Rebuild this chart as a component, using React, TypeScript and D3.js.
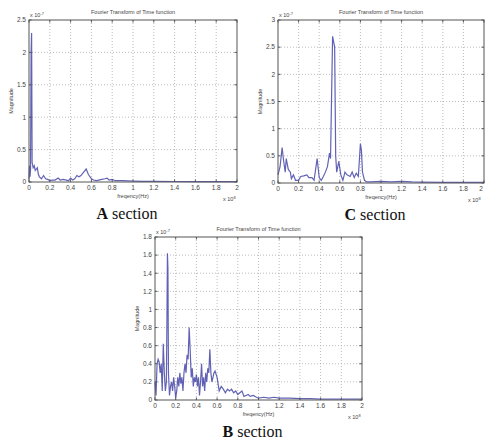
import React from 'react'
import * as d3 from 'd3'

// frequencies in units of 1e8 Hz, magnitudes in units of 1e-7
const freqA = [0, 0.005, 0.01, 0.015, 0.02, 0.025, 0.03, 0.04, 0.05, 0.06, 0.07, 0.08, 0.09, 0.1, 0.12, 0.14, 0.16, 0.18, 0.2, 0.22, 0.25, 0.28, 0.3, 0.33, 0.36, 0.38, 0.4, 0.42, 0.44, 0.46, 0.48, 0.5, 0.52, 0.55, 0.57, 0.6, 0.62, 0.65, 0.7, 0.73, 0.75, 0.77, 0.8, 0.83, 0.9, 1.0, 1.1, 1.2, 1.4, 1.6, 1.8, 2.0]
const magA = [0.05, 0.25, 0.08, 0.2, 2.0, 2.3, 0.3, 0.22, 0.25, 0.18, 0.2, 0.22, 0.12, 0.08, 0.05, 0.1, 0.05, 0.04, 0.02, 0.03, 0.03, 0.06, 0.03, 0.04, 0.03, 0.02, 0.06, 0.03, 0.05, 0.1, 0.08, 0.1, 0.14, 0.2, 0.12, 0.05, 0.03, 0.02, 0.04, 0.05, 0.06, 0.03, 0.04, 0.02, 0.02, 0.015, 0.01, 0.01, 0.008, 0.006, 0.005, 0.005]

const freqC = [0, 0.02, 0.04, 0.055, 0.07, 0.08, 0.1, 0.12, 0.13, 0.15, 0.17, 0.2, 0.22, 0.25, 0.28, 0.3, 0.33, 0.35, 0.38, 0.4, 0.42, 0.44, 0.46, 0.48, 0.5, 0.51, 0.53, 0.55, 0.56, 0.57, 0.59, 0.61, 0.63, 0.65, 0.67, 0.7, 0.72, 0.74, 0.76, 0.78, 0.8, 0.81, 0.82, 0.84, 0.86, 0.9, 1.0, 1.1, 1.2, 1.3, 1.4, 1.6, 1.8, 2.0]
const magC = [0.15, 0.3, 0.65, 0.4, 0.2, 0.45, 0.25, 0.2, 0.08, 0.15, 0.05, 0.05, 0.12, 0.13, 0.15, 0.1, 0.1, 0.05, 0.45, 0.1, 0.05, 0.12, 0.2, 0.3, 0.55, 0.45, 2.7, 2.5, 0.5, 0.2, 0.4, 0.15, 0.05, 0.2, 0.15, 0.12, 0.2, 0.1, 0.18, 0.12, 0.72, 0.6, 0.2, 0.05, 0.02, 0.02, 0.03, 0.02, 0.03, 0.02, 0.015, 0.012, 0.01, 0.01]

const freqB = [0, 0.01, 0.02, 0.03, 0.04, 0.05, 0.06, 0.07, 0.08, 0.09, 0.1, 0.11, 0.115, 0.12, 0.125, 0.13, 0.14, 0.15, 0.16, 0.17, 0.18, 0.19, 0.2, 0.21, 0.22, 0.23, 0.24, 0.25, 0.26, 0.27, 0.28, 0.29, 0.3, 0.31, 0.32, 0.33, 0.34, 0.35, 0.36, 0.37, 0.38, 0.39, 0.4, 0.41, 0.42, 0.43, 0.44, 0.45, 0.46, 0.47, 0.48, 0.49, 0.5, 0.51, 0.52, 0.53, 0.54, 0.55, 0.56, 0.57, 0.58, 0.6, 0.62, 0.64, 0.66, 0.68, 0.7, 0.72, 0.74, 0.76, 0.78, 0.8, 0.82, 0.84, 0.86, 0.88, 0.9, 0.92, 0.95, 0.98, 1.0, 1.05, 1.1, 1.15, 1.2, 1.3, 1.4, 1.5, 1.6, 1.8, 2.0]
const magB = [0.2, 0.05, 0.4, 0.45, 0.42, 0.3, 0.4, 0.1, 0.62, 0.3, 0.1, 0.2, 0.85, 1.62, 1.45, 0.3, 0.05, 0.15, 0.2, 0.1, 0.25, 0.15, 0.02, 0.1, 0.25, 0.15, 0.3, 0.18, 0.25, 0.1, 0.3, 0.4, 0.3, 0.5, 0.45, 0.8, 0.55, 0.25, 0.35, 0.15, 0.25, 0.2, 0.28, 0.15, 0.25, 0.05, 0.2, 0.4, 0.15, 0.25, 0.1, 0.3, 0.2, 0.35, 0.3, 0.56, 0.3, 0.2, 0.25, 0.3, 0.32, 0.25, 0.1, 0.15, 0.12, 0.08, 0.12, 0.1, 0.12, 0.08, 0.1, 0.06, 0.08, 0.1, 0.04, 0.05, 0.06, 0.04, 0.05, 0.03, 0.02, 0.03, 0.02, 0.03, 0.02, 0.02, 0.015, 0.015, 0.01, 0.01, 0.01]

const xTicks = [0, 0.2, 0.4, 0.6, 0.8, 1, 1.2, 1.4, 1.6, 1.8, 2]
const yTicksA = [0, 0.5, 1, 1.5, 2, 2.5]
const yTicksC = [0, 0.5, 1, 1.5, 2, 2.5, 3]
const yTicksB = [0, 0.2, 0.4, 0.6, 0.8, 1, 1.2, 1.4, 1.6, 1.8]

const sans = 'Arial, "Liberation Sans", sans-serif'

function Panel({ left, right, top, bottom, freq, mag, yTicks, yMax, letter }) {
  const x = d3.scaleLinear().domain([0, 2]).range([left, right])
  const y = d3.scaleLinear().domain([0, yMax]).range([bottom, top])
  const line = d3.line<number>().x((d, i) => x(freq[i])).y(d => y(d))
  const cx = (left + right) / 2
  return (
    <g>
      {/* grid */}
      {xTicks.slice(1, -1).map(t => (
        <line key={'gx' + t} x1={x(t)} x2={x(t)} y1={top} y2={bottom} stroke="#aaa" strokeWidth={0.8} strokeDasharray="1,2" />
      ))}
      {yTicks.slice(1, -1).map(t => (
        <line key={'gy' + t} x1={left} x2={right} y1={y(t)} y2={y(t)} stroke="#aaa" strokeWidth={0.8} strokeDasharray="1,2" />
      ))}
      {/* data */}
      <path d={line(mag) || ''} fill="none" stroke="#4646a8" strokeWidth={1.2} strokeOpacity={0.85} />
      {/* frame */}
      <rect x={left} y={top} width={right - left} height={bottom - top} fill="none" stroke="#555" strokeWidth={1} />
      {xTicks.map(t => (
        <g key={'tx' + t}>
          <line x1={x(t)} x2={x(t)} y1={bottom} y2={bottom - 2.5} stroke="#555" />
          <line x1={x(t)} x2={x(t)} y1={top} y2={top + 2.5} stroke="#555" />
          <text x={Math.min(x(t), 481)} y={bottom + 8} textAnchor="middle" fontSize={6.5} fill="#444" fontFamily={sans}>{String(t)}</text>
        </g>
      ))}
      {yTicks.map(t => (
        <g key={'ty' + t}>
          <line x1={left} x2={left + 2.5} y1={y(t)} y2={y(t)} stroke="#555" />
          <line x1={right} x2={right - 2.5} y1={y(t)} y2={y(t)} stroke="#555" />
          <text x={left - 3} y={y(t) + 2.3} textAnchor="end" fontSize={6.5} fill="#444" fontFamily={sans}>{String(t)}</text>
        </g>
      ))}
      <text x={left + 1} y={top - 3} fontSize={5.5} fill="#444" fontFamily={sans}>x 10<tspan dy={-2.5} fontSize={4}>-7</tspan></text>
      <text x={Math.min(right - 14, 468)} y={bottom + 19} fontSize={5.5} fill="#444" fontFamily={sans}>x 10<tspan dy={-2.5} fontSize={4}>8</tspan></text>
      <text x={cx} y={top - 6} textAnchor="middle" fontSize={5.5} fill="#444" fontFamily={sans}>Fourier Transform of Time function</text>
      <text x={cx} y={bottom + 16} textAnchor="middle" fontSize={5.5} fill="#444" fontFamily={sans}>freqency(Hz)</text>
      <text transform={`translate(${left - 16},${(top + bottom) / 2}) rotate(-90)`} textAnchor="middle" fontSize={5.5} fill="#444" fontFamily={sans}>Magnitude</text>
      <text x={cx - 6} y={bottom + 37} textAnchor="middle" fontSize={16} fill="#111" fontFamily='"Liberation Serif", "Times New Roman", serif'>
        <tspan fontWeight="bold">{letter}</tspan> section
      </text>
    </g>
  )
}

export default function App() {
  return (
    <svg width={485} height={441} style={{ position: 'absolute', left: 0, top: 0, background: '#fff' }}>
      <Panel left={29} right={237} top={20} bottom={182} freq={freqA} mag={magA} yTicks={yTicksA} yMax={2.5} letter="A" />
      <Panel left={278} right={484} top={20} bottom={183} freq={freqC} mag={magC} yTicks={yTicksC} yMax={3} letter="C" />
      <Panel left={155} right={362} top={237} bottom={400} freq={freqB} mag={magB} yTicks={yTicksB} yMax={1.8} letter="B" />
    </svg>
  )
}
